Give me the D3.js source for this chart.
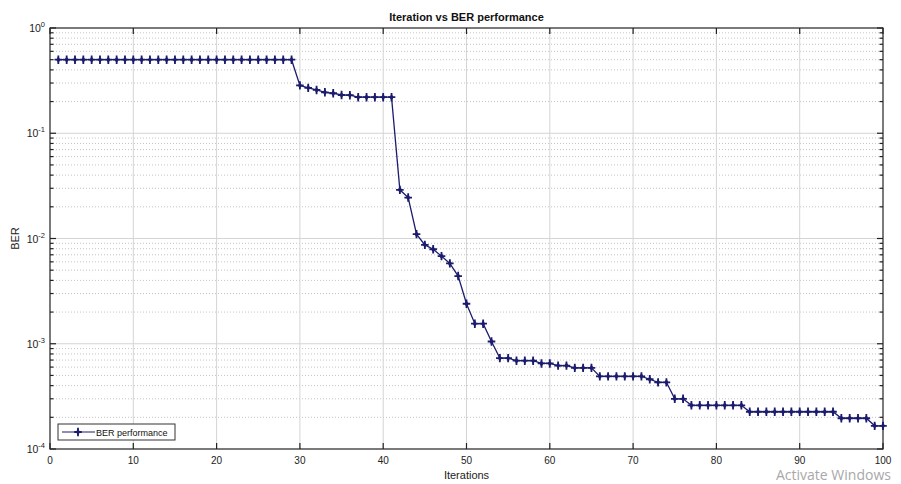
<!DOCTYPE html>
<html lang="en">
<head>
<meta charset="utf-8">
<title>Iteration vs BER performance</title>
<script src="https://cdn.jsdelivr.net/npm/d3@7"></script>
<style>
  body { margin: 0; background: #fff; }
  svg { font-family: "Liberation Sans", Arial, sans-serif; }
  .major line { stroke: #d4d4d4; }
  .minor line { stroke: #c4c4c4; stroke-dasharray: 1,2; }
</style>
</head>
<body>
<script>
// data
var iterations = d3.range(1, 101);
var ber = [
  0.5, 0.5, 0.5, 0.5, 0.5, 0.5, 0.5, 0.5, 0.5, 0.5,
  0.5, 0.5, 0.5, 0.5, 0.5, 0.5, 0.5, 0.5, 0.5, 0.5,
  0.5, 0.5, 0.5, 0.5, 0.5, 0.5, 0.5, 0.5, 0.5, 0.285,
  0.27, 0.258, 0.245, 0.24, 0.231, 0.23, 0.22, 0.22, 0.22, 0.22,
  0.22, 0.029, 0.0245, 0.011, 0.0087, 0.0079, 0.0068, 0.0058, 0.0044, 0.0024,
  0.00155, 0.00155, 0.00105, 0.00073, 0.00073, 0.00069, 0.00069, 0.00069, 0.00065, 0.00065,
  0.00062, 0.00062, 0.00059, 0.00059, 0.00059, 0.00049, 0.00049, 0.00049, 0.00049, 0.00049,
  0.00049, 0.00046, 0.00043, 0.00043, 0.0003, 0.0003, 0.00026, 0.00026, 0.00026, 0.00026,
  0.00026, 0.00026, 0.00026, 0.000226, 0.000226, 0.000226, 0.000226, 0.000226, 0.000226, 0.000226,
  0.000226, 0.000226, 0.000226, 0.000226, 0.000196, 0.000196, 0.000196, 0.000196, 0.000166, 0.000166
];
var xTicks = [0, 10, 20, 30, 40, 50, 60, 70, 80, 90, 100];
var yDecades = [-4, -3, -2, -1, 0];
var seriesName = "BER performance";

var W = 901, H = 484;
var pL = 50, pR = 883, pT = 28, pB = 449;
var navy = "#1c1c6e";

var svg = d3.select("body").append("svg")
  .attr("width", W).attr("height", H);

var x = d3.scaleLinear().domain([0, 100]).range([pL, pR]);
var y = d3.scaleLog().domain([1e-4, 1]).range([pB, pT]);

// minor values 2..9 of each decade
var minorVals = [];
yDecades.slice(0, -1).forEach(function(e) {
  for (var k = 2; k <= 9; k++) minorVals.push(k * Math.pow(10, e));
});
var majorVals = yDecades.map(function(e) { return Math.pow(10, e); });

// dotted minor grid
svg.append("g").attr("class", "minor")
  .selectAll("line").data(minorVals).enter().append("line")
  .attr("x1", pL).attr("x2", pR)
  .attr("y1", function(d) { return y(d); }).attr("y2", function(d) { return y(d); });

// solid major grid
var gMaj = svg.append("g").attr("class", "major");
gMaj.selectAll(".h").data(majorVals.slice(1, -1)).enter().append("line")
  .attr("x1", pL).attr("x2", pR)
  .attr("y1", function(d) { return y(d); }).attr("y2", function(d) { return y(d); });
gMaj.selectAll(".v").data(xTicks.slice(1, -1)).enter().append("line")
  .attr("y1", pT).attr("y2", pB)
  .attr("x1", function(d) { return x(d); }).attr("x2", function(d) { return x(d); });

// box
svg.append("rect")
  .attr("x", pL).attr("y", pT)
  .attr("width", pR - pL).attr("height", pB - pT)
  .attr("fill", "none").attr("stroke", "#222").attr("stroke-width", 1.2);

// ticks (inward, both sides like matlab)
var ticks = svg.append("g").attr("stroke", "#222").attr("stroke-width", 1.2);
xTicks.forEach(function(t) {
  ticks.append("line").attr("x1", x(t)).attr("x2", x(t)).attr("y1", pB).attr("y2", pB - 6);
  ticks.append("line").attr("x1", x(t)).attr("x2", x(t)).attr("y1", pT).attr("y2", pT + 6);
});
majorVals.forEach(function(v) {
  ticks.append("line").attr("x1", pL).attr("x2", pL + 6).attr("y1", y(v)).attr("y2", y(v));
  ticks.append("line").attr("x1", pR).attr("x2", pR - 6).attr("y1", y(v)).attr("y2", y(v));
});
minorVals.forEach(function(v) {
  ticks.append("line").attr("x1", pL).attr("x2", pL + 3.5).attr("y1", y(v)).attr("y2", y(v));
  ticks.append("line").attr("x1", pR).attr("x2", pR - 3.5).attr("y1", y(v)).attr("y2", y(v));
});

// x tick labels
svg.append("g").selectAll("text").data(xTicks).enter().append("text")
  .attr("x", function(d) { return x(d); })
  .attr("y", 464)
  .attr("text-anchor", "middle")
  .style("font-size", "10px")
  .attr("fill", "#222")
  .text(function(d) { return d; });

// y tick labels 10^e
var yl = svg.append("g").selectAll("text").data(yDecades).enter().append("text")
  .attr("x", 45)
  .attr("y", function(d) { return y(Math.pow(10, d)) + 4; })
  .attr("text-anchor", "end")
  .style("font-size", "10.5px")
  .attr("fill", "#222");
yl.append("tspan").text("10");
yl.append("tspan").attr("dy", -5).style("font-size", "7.5px")
  .text(function(d) { return String(d); });

// line + markers
var line = d3.line()
  .x(function(d, i) { return x(iterations[i]); })
  .y(function(d) { return y(d); });

svg.append("path")
  .datum(ber)
  .attr("d", line)
  .attr("fill", "none")
  .attr("stroke", navy)
  .attr("stroke-width", 1.3);

function marker(sel) {
  sel.append("path").attr("d", "M-3.8,0H3.8M0,-4.2V4.2")
    .attr("stroke", navy).attr("stroke-width", 1.8);
  sel.append("path").attr("d", d3.symbol().type(d3.symbolDiamond).size(14))
    .attr("fill", navy);
}

svg.append("g").selectAll("g").data(ber).enter().append("g")
  .attr("transform", function(d, i) { return "translate(" + x(iterations[i]) + "," + y(d) + ")"; })
  .call(marker);

// title and axis labels
svg.append("text")
  .attr("x", (pL + pR) / 2).attr("y", 21)
  .attr("text-anchor", "middle")
  .style("font-size", "11px").style("font-weight", "bold")
  .attr("fill", "#111")
  .text("Iteration vs BER performance");

svg.append("text")
  .attr("x", (pL + pR) / 2).attr("y", 479)
  .attr("text-anchor", "middle")
  .style("font-size", "11px")
  .attr("fill", "#222")
  .text("Iterations");

svg.append("text")
  .attr("transform", "translate(19," + ((pT + pB) / 2) + ") rotate(-90)")
  .attr("text-anchor", "middle")
  .style("font-size", "11px")
  .attr("fill", "#222")
  .text("BER");

// legend
var lg = svg.append("g");
lg.append("rect")
  .attr("x", 58).attr("y", 424).attr("width", 117).attr("height", 16)
  .attr("fill", "#fff").attr("stroke", "#333").attr("stroke-width", 1);
lg.append("line")
  .attr("x1", 62).attr("x2", 95).attr("y1", 432).attr("y2", 432)
  .attr("stroke", navy).attr("stroke-width", 1.2);
lg.append("g").attr("transform", "translate(78,432)").call(marker);
lg.append("text")
  .attr("x", 96).attr("y", 435.5)
  .style("font-size", "9px")
  .attr("fill", "#111")
  .text(seriesName);

// windows watermark visible in the screenshot
svg.append("text")
  .attr("x", 776).attr("y", 480)
  .style("font-family", "'Open Sans', 'DejaVu Sans', sans-serif")
  .style("font-size", "14px")
  .attr("fill", "#a8a8a8")
  .text("Activate Windows");
</script>
</body>
</html>
